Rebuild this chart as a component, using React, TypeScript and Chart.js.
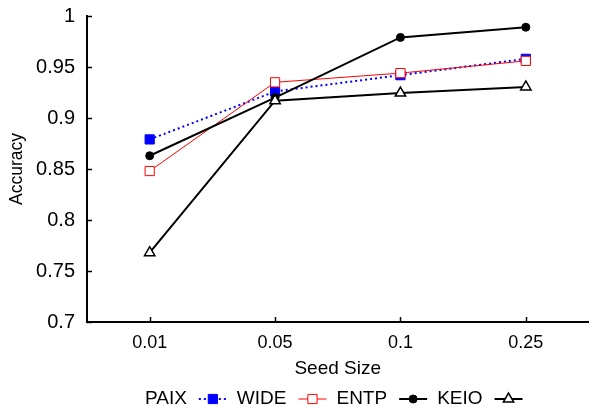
import React, { useEffect, useRef } from "react";
import { Chart, registerables } from "chart.js";

Chart.register(...registerables);

const seedSizes = ["0.01", "0.05", "0.1", "0.25"];
const paix = [0.879, 0.926, 0.942, 0.958];
const wide = [0.848, 0.935, 0.944, 0.956];
const entp = [0.863, 0.92, 0.979, 0.989];
const keio = [0.768, 0.917, 0.9245, 0.9305];
const yMin = 0.7;
const yMax = 1.0;
const yStep = 0.05;

const FONT = '"Liberation Sans", Arial, sans-serif';

type SeriesStyle = {
  label: string;
  data: number[];
  color: string;
  width: number;
  dash: number[];
  pointStyle: string;
  radius: number;
  filled: boolean;
};

const series: SeriesStyle[] = [
  { label: "PAIX", data: paix, color: "#0000ff", width: 2, dash: [2, 3], pointStyle: "rect", radius: 6.5, filled: true },
  { label: "WIDE", data: wide, color: "#ff0000", width: 1, dash: [], pointStyle: "rect", radius: 6.5, filled: false },
  { label: "ENTP", data: entp, color: "#000000", width: 2, dash: [], pointStyle: "circle", radius: 4, filled: true },
  { label: "KEIO", data: keio, color: "#000000", width: 2, dash: [], pointStyle: "triangle", radius: 6, filled: false },
];

function drawMarker(ctx: CanvasRenderingContext2D, s: SeriesStyle, x: number, y: number) {
  ctx.save();
  ctx.setLineDash([]);
  ctx.strokeStyle = s.color;
  ctx.fillStyle = s.filled ? s.color : "#ffffff";
  ctx.lineWidth = s.pointStyle === "triangle" ? 1.5 : 1;
  ctx.beginPath();
  if (s.pointStyle === "rect") {
    const h = s.radius * Math.SQRT1_2;
    ctx.rect(x - h, y - h, 2 * h, 2 * h);
  } else if (s.pointStyle === "circle") {
    ctx.arc(x, y, s.radius, 0, Math.PI * 2);
  } else {
    const r = s.radius;
    ctx.moveTo(x, y - r);
    ctx.lineTo(x + r * Math.sin((2 * Math.PI) / 3), y - r * Math.cos((2 * Math.PI) / 3));
    ctx.lineTo(x + r * Math.sin((4 * Math.PI) / 3), y - r * Math.cos((4 * Math.PI) / 3));
    ctx.closePath();
  }
  ctx.fill();
  ctx.stroke();
  ctx.restore();
}

const ticksAndLegend = {
  id: "ticksAndLegend",
  afterDraw(chart: any) {
    const ctx: CanvasRenderingContext2D = chart.ctx;
    const xs = chart.scales.x;
    const ys = chart.scales.y;
    const area = chart.chartArea;
    ctx.save();
    ctx.strokeStyle = "#000";
    ctx.lineWidth = 1.5;
    ctx.setLineDash([]);
    ys.ticks.forEach((t: any) => {
      const py = Math.round(ys.getPixelForValue(t.value)) + 0.5;
      ctx.beginPath();
      ctx.moveTo(area.left, py);
      ctx.lineTo(area.left + 5, py);
      ctx.stroke();
    });
    xs.ticks.forEach((_t: any, i: number) => {
      const px = Math.round(xs.getPixelForTick(i)) + 0.5;
      ctx.beginPath();
      ctx.moveTo(px, area.bottom);
      ctx.lineTo(px, area.bottom - 5);
      ctx.stroke();
    });

    // legend: label followed by its sample (gnuplot style)
    ctx.font = `19px ${FONT}`;
    ctx.textBaseline = "middle";
    ctx.textAlign = "left";
    const gapText = 12;
    const sampleLen = 28;
    const gapItem = 10;
    let total = 0;
    series.forEach((s, i) => {
      total += ctx.measureText(s.label).width + gapText + sampleLen;
      if (i < series.length - 1) total += gapItem;
    });
    let x = (area.left + area.right) / 2 - 4 - total / 2;
    const y = 399;
    series.forEach((s) => {
      ctx.fillStyle = "#000";
      ctx.fillText(s.label, x, y);
      x += ctx.measureText(s.label).width + gapText;
      ctx.save();
      ctx.strokeStyle = s.color;
      ctx.lineWidth = s.width;
      ctx.setLineDash(s.dash);
      ctx.beginPath();
      ctx.moveTo(x, y);
      ctx.lineTo(x + sampleLen, y);
      ctx.stroke();
      ctx.restore();
      drawMarker(ctx, s, x + sampleLen / 2, y);
      x += sampleLen + gapItem;
    });
    ctx.restore();
  },
};

export default function App() {
  const canvasRef = useRef<HTMLCanvasElement | null>(null);

  useEffect(() => {
    document.body.style.margin = "0";
    const canvas = canvasRef.current;
    if (!canvas) return;
    const chart = new Chart(canvas, {
      type: "line",
      data: {
        labels: seedSizes,
        datasets: series.map((s, i) => ({
          label: s.label,
          data: s.data,
          borderColor: s.color,
          backgroundColor: s.filled ? s.color : "#ffffff",
          borderWidth: s.width,
          borderDash: s.dash,
          pointStyle: s.pointStyle as any,
          pointRadius: s.radius,
          pointBorderColor: s.color,
          pointBackgroundColor: s.filled ? s.color : "#ffffff",
          pointBorderWidth: s.pointStyle === "triangle" ? 1.5 : 1,
          tension: 0,
          fill: false,
          order: series.length - i,
        })),
      },
      options: {
        responsive: false,
        animation: false,
        devicePixelRatio: 1,
        layout: { padding: { top: 15, left: 0, right: 0, bottom: 0 } },
        plugins: {
          legend: { display: false },
          tooltip: { enabled: false },
        },
        scales: {
          x: {
            type: "category",
            offset: true,
            grid: { display: false },
            border: { display: true, color: "#000", width: 2 },
            ticks: { color: "#000", font: { family: FONT, size: 18 }, padding: 2 },
            title: {
              display: true,
              text: "Seed Size",
              color: "#000",
              font: { family: FONT, size: 19 },
              padding: { top: 0, bottom: 29 },
            },
            afterFit: (scale: any) => {
              scale.height = 87;
            },
          },
          y: {
            min: yMin,
            max: yMax,
            grid: { display: false },
            border: { display: true, color: "#000", width: 2 },
            ticks: {
              stepSize: yStep,
              color: "#000",
              font: { family: FONT, size: 20 },
              padding: 4,
              callback: (v: any) => String(Number(Number(v).toFixed(2))),
            },
            title: {
              display: true,
              text: "Accuracy",
              color: "#000",
              font: { family: FONT, size: 17.5 },
              padding: { top: 7, bottom: 0 },
            },
            afterFit: (scale: any) => {
              scale.width = 87;
            },
          },
        },
      },
      plugins: [ticksAndLegend],
    });
    return () => chart.destroy();
  }, []);

  return (
    <div style={{ width: 596, height: 409, background: "#fff" }}>
      <canvas ref={canvasRef} width={596} height={409} style={{ display: "block" }} />
    </div>
  );
}
